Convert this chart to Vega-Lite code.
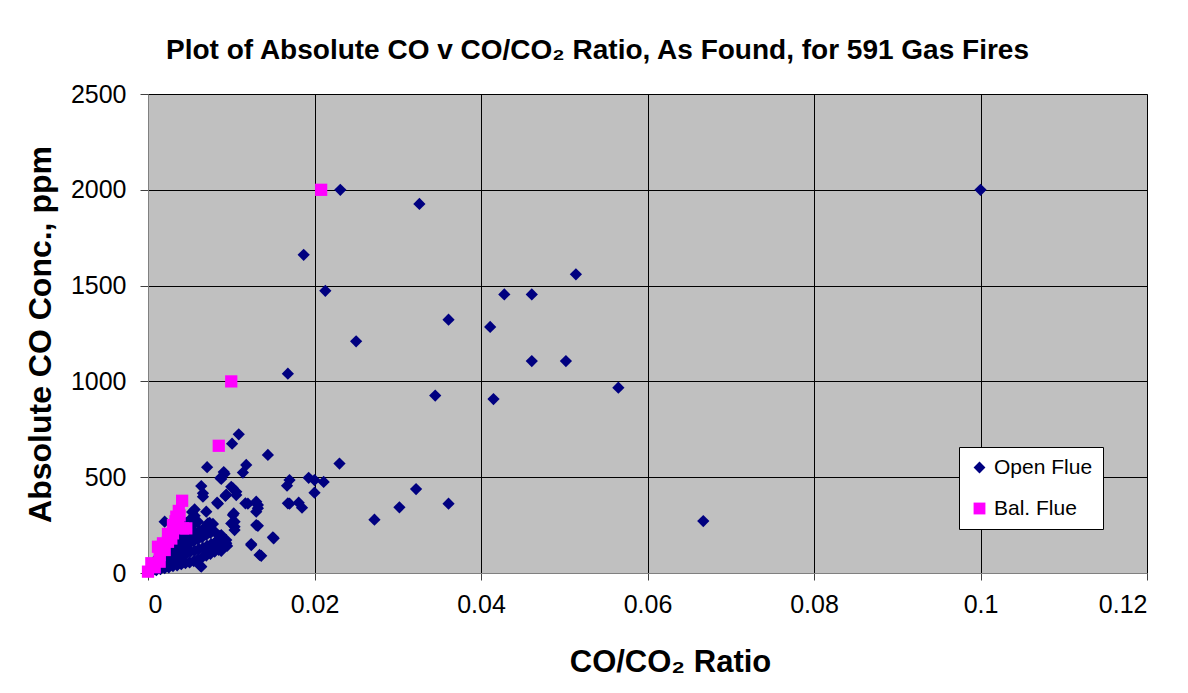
{
  "$schema": "https://vega.github.io/schema/vega-lite/v6.json",
  "width": 999,
  "height": 479,
  "autosize": {"type": "none"},
  "padding": {"left": 148, "top": 94, "right": 41, "bottom": 120},
  "background": "white",
  "title": {
    "text": "Plot of Absolute CO v CO/CO₂ Ratio, As Found, for 591 Gas Fires",
    "font": "Liberation Sans",
    "fontSize": 28,
    "fontWeight": "bold",
    "color": "black",
    "anchor": "middle",
    "frame": "group",
    "dx": -50,
    "offset": 17
  },
  "config": {
    "view": {"fill": "#C0C0C0", "stroke": "#808080", "strokeWidth": 1},
    "axis": {
      "labelFont": "Liberation Sans",
      "labelFontSize": 25,
      "labelColor": "black",
      "titleFont": "Liberation Sans",
      "titleFontWeight": "bold",
      "titleColor": "black",
      "gridColor": "black",
      "gridOpacity": 1,
      "gridWidth": 1,
      "domainColor": "#808080",
      "tickColor": "#404040",
      "tickSize": 8
    }
  },
  "data": {
    "values": [
      {"r": 0.1, "co": 2000, "type": "Open Flue"},
      {"r": 0.0231, "co": 2000, "type": "Open Flue"},
      {"r": 0.0326, "co": 1926, "type": "Open Flue"},
      {"r": 0.0187, "co": 1661, "type": "Open Flue"},
      {"r": 0.0514, "co": 1559, "type": "Open Flue"},
      {"r": 0.0213, "co": 1473, "type": "Open Flue"},
      {"r": 0.0428, "co": 1454, "type": "Open Flue"},
      {"r": 0.0461, "co": 1454, "type": "Open Flue"},
      {"r": 0.0361, "co": 1322, "type": "Open Flue"},
      {"r": 0.0411, "co": 1284, "type": "Open Flue"},
      {"r": 0.025, "co": 1209, "type": "Open Flue"},
      {"r": 0.0461, "co": 1106, "type": "Open Flue"},
      {"r": 0.0502, "co": 1106, "type": "Open Flue"},
      {"r": 0.0168, "co": 1040, "type": "Open Flue"},
      {"r": 0.0565, "co": 967, "type": "Open Flue"},
      {"r": 0.0345, "co": 926, "type": "Open Flue"},
      {"r": 0.0415, "co": 908, "type": "Open Flue"},
      {"r": 0.0109, "co": 724, "type": "Open Flue"},
      {"r": 0.0101, "co": 675, "type": "Open Flue"},
      {"r": 0.0144, "co": 616, "type": "Open Flue"},
      {"r": 0.023, "co": 571, "type": "Open Flue"},
      {"r": 0.0118, "co": 564, "type": "Open Flue"},
      {"r": 0.0071, "co": 552, "type": "Open Flue"},
      {"r": 0.0114, "co": 524, "type": "Open Flue"},
      {"r": 0.0091, "co": 527, "type": "Open Flue"},
      {"r": 0.0092, "co": 518, "type": "Open Flue"},
      {"r": 0.0088, "co": 491, "type": "Open Flue"},
      {"r": 0.0087, "co": 496, "type": "Open Flue"},
      {"r": 0.0193, "co": 497, "type": "Open Flue"},
      {"r": 0.017, "co": 485, "type": "Open Flue"},
      {"r": 0.02, "co": 485, "type": "Open Flue"},
      {"r": 0.0211, "co": 475, "type": "Open Flue"},
      {"r": 0.0167, "co": 456, "type": "Open Flue"},
      {"r": 0.0064, "co": 454, "type": "Open Flue"},
      {"r": 0.0102, "co": 442, "type": "Open Flue"},
      {"r": 0.01, "co": 450, "type": "Open Flue"},
      {"r": 0.0322, "co": 438, "type": "Open Flue"},
      {"r": 0.0106, "co": 424, "type": "Open Flue"},
      {"r": 0.02, "co": 419, "type": "Open Flue"},
      {"r": 0.0066, "co": 416, "type": "Open Flue"},
      {"r": 0.0106, "co": 407, "type": "Open Flue"},
      {"r": 0.0093, "co": 402, "type": "Open Flue"},
      {"r": 0.0094, "co": 409, "type": "Open Flue"},
      {"r": 0.0066, "co": 398, "type": "Open Flue"},
      {"r": 0.0083, "co": 367, "type": "Open Flue"},
      {"r": 0.0084, "co": 362, "type": "Open Flue"},
      {"r": 0.0117, "co": 364, "type": "Open Flue"},
      {"r": 0.012, "co": 362, "type": "Open Flue"},
      {"r": 0.013, "co": 372, "type": "Open Flue"},
      {"r": 0.0168, "co": 364, "type": "Open Flue"},
      {"r": 0.017, "co": 362, "type": "Open Flue"},
      {"r": 0.0181, "co": 367, "type": "Open Flue"},
      {"r": 0.0361, "co": 362, "type": "Open Flue"},
      {"r": 0.0132, "co": 355, "type": "Open Flue"},
      {"r": 0.0185, "co": 341, "type": "Open Flue"},
      {"r": 0.0302, "co": 343, "type": "Open Flue"},
      {"r": 0.0132, "co": 338, "type": "Open Flue"},
      {"r": 0.0056, "co": 332, "type": "Open Flue"},
      {"r": 0.007, "co": 320, "type": "Open Flue"},
      {"r": 0.013, "co": 320, "type": "Open Flue"},
      {"r": 0.0103, "co": 311, "type": "Open Flue"},
      {"r": 0.0102, "co": 303, "type": "Open Flue"},
      {"r": 0.0272, "co": 278, "type": "Open Flue"},
      {"r": 0.0667, "co": 271, "type": "Open Flue"},
      {"r": 0.002, "co": 268, "type": "Open Flue"},
      {"r": 0.0032, "co": 277, "type": "Open Flue"},
      {"r": 0.0104, "co": 268, "type": "Open Flue"},
      {"r": 0.0072, "co": 259, "type": "Open Flue"},
      {"r": 0.0074, "co": 262, "type": "Open Flue"},
      {"r": 0.0078, "co": 256, "type": "Open Flue"},
      {"r": 0.01, "co": 259, "type": "Open Flue"},
      {"r": 0.013, "co": 250, "type": "Open Flue"},
      {"r": 0.0132, "co": 246, "type": "Open Flue"},
      {"r": 0.0104, "co": 242, "type": "Open Flue"},
      {"r": 0.0104, "co": 224, "type": "Open Flue"},
      {"r": 0.0086, "co": 193, "type": "Open Flue"},
      {"r": 0.0088, "co": 198, "type": "Open Flue"},
      {"r": 0.015, "co": 186, "type": "Open Flue"},
      {"r": 0.0151, "co": 181, "type": "Open Flue"},
      {"r": 0.0094, "co": 172, "type": "Open Flue"},
      {"r": 0.008, "co": 155, "type": "Open Flue"},
      {"r": 0.0094, "co": 155, "type": "Open Flue"},
      {"r": 0.0124, "co": 151, "type": "Open Flue"},
      {"r": 0.0124, "co": 146, "type": "Open Flue"},
      {"r": 0.0082, "co": 129, "type": "Open Flue"},
      {"r": 0.0088, "co": 116, "type": "Open Flue"},
      {"r": 0.0136, "co": 90, "type": "Open Flue"},
      {"r": 0.0134, "co": 94, "type": "Open Flue"},
      {"r": 0.0063, "co": 37, "type": "Open Flue"},
      {"r": 0.0064, "co": 33, "type": "Open Flue"},
      {"r": 0.0005, "co": 10, "type": "Open Flue"},
      {"r": 0.0005, "co": 20, "type": "Open Flue"},
      {"r": 0.0006, "co": 32, "type": "Open Flue"},
      {"r": 0.001, "co": 15, "type": "Open Flue"},
      {"r": 0.001, "co": 30, "type": "Open Flue"},
      {"r": 0.0011, "co": 46, "type": "Open Flue"},
      {"r": 0.001, "co": 62, "type": "Open Flue"},
      {"r": 0.0012, "co": 80, "type": "Open Flue"},
      {"r": 0.0015, "co": 20, "type": "Open Flue"},
      {"r": 0.0015, "co": 41, "type": "Open Flue"},
      {"r": 0.0016, "co": 60, "type": "Open Flue"},
      {"r": 0.0015, "co": 82, "type": "Open Flue"},
      {"r": 0.0017, "co": 100, "type": "Open Flue"},
      {"r": 0.0016, "co": 122, "type": "Open Flue"},
      {"r": 0.002, "co": 25, "type": "Open Flue"},
      {"r": 0.0021, "co": 50, "type": "Open Flue"},
      {"r": 0.002, "co": 76, "type": "Open Flue"},
      {"r": 0.0022, "co": 98, "type": "Open Flue"},
      {"r": 0.002, "co": 127, "type": "Open Flue"},
      {"r": 0.0021, "co": 150, "type": "Open Flue"},
      {"r": 0.0025, "co": 30, "type": "Open Flue"},
      {"r": 0.0026, "co": 61, "type": "Open Flue"},
      {"r": 0.0025, "co": 88, "type": "Open Flue"},
      {"r": 0.0027, "co": 120, "type": "Open Flue"},
      {"r": 0.0025, "co": 152, "type": "Open Flue"},
      {"r": 0.0026, "co": 181, "type": "Open Flue"},
      {"r": 0.003, "co": 36, "type": "Open Flue"},
      {"r": 0.0031, "co": 70, "type": "Open Flue"},
      {"r": 0.003, "co": 101, "type": "Open Flue"},
      {"r": 0.0032, "co": 131, "type": "Open Flue"},
      {"r": 0.003, "co": 160, "type": "Open Flue"},
      {"r": 0.0031, "co": 192, "type": "Open Flue"},
      {"r": 0.0033, "co": 222, "type": "Open Flue"},
      {"r": 0.0035, "co": 40, "type": "Open Flue"},
      {"r": 0.0036, "co": 79, "type": "Open Flue"},
      {"r": 0.0035, "co": 116, "type": "Open Flue"},
      {"r": 0.0037, "co": 150, "type": "Open Flue"},
      {"r": 0.0035, "co": 184, "type": "Open Flue"},
      {"r": 0.0036, "co": 214, "type": "Open Flue"},
      {"r": 0.004, "co": 46, "type": "Open Flue"},
      {"r": 0.0041, "co": 90, "type": "Open Flue"},
      {"r": 0.004, "co": 129, "type": "Open Flue"},
      {"r": 0.0042, "co": 171, "type": "Open Flue"},
      {"r": 0.004, "co": 210, "type": "Open Flue"},
      {"r": 0.0041, "co": 246, "type": "Open Flue"},
      {"r": 0.0045, "co": 52, "type": "Open Flue"},
      {"r": 0.0046, "co": 99, "type": "Open Flue"},
      {"r": 0.0045, "co": 141, "type": "Open Flue"},
      {"r": 0.0047, "co": 181, "type": "Open Flue"},
      {"r": 0.0045, "co": 219, "type": "Open Flue"},
      {"r": 0.0046, "co": 262, "type": "Open Flue"},
      {"r": 0.005, "co": 55, "type": "Open Flue"},
      {"r": 0.0051, "co": 111, "type": "Open Flue"},
      {"r": 0.005, "co": 154, "type": "Open Flue"},
      {"r": 0.0052, "co": 199, "type": "Open Flue"},
      {"r": 0.005, "co": 241, "type": "Open Flue"},
      {"r": 0.0051, "co": 281, "type": "Open Flue"},
      {"r": 0.0053, "co": 318, "type": "Open Flue"},
      {"r": 0.0055, "co": 62, "type": "Open Flue"},
      {"r": 0.0056, "co": 116, "type": "Open Flue"},
      {"r": 0.0055, "co": 166, "type": "Open Flue"},
      {"r": 0.0057, "co": 209, "type": "Open Flue"},
      {"r": 0.0055, "co": 254, "type": "Open Flue"},
      {"r": 0.0056, "co": 299, "type": "Open Flue"},
      {"r": 0.006, "co": 71, "type": "Open Flue"},
      {"r": 0.0061, "co": 124, "type": "Open Flue"},
      {"r": 0.006, "co": 176, "type": "Open Flue"},
      {"r": 0.0062, "co": 221, "type": "Open Flue"},
      {"r": 0.006, "co": 268, "type": "Open Flue"},
      {"r": 0.0065, "co": 81, "type": "Open Flue"},
      {"r": 0.0066, "co": 131, "type": "Open Flue"},
      {"r": 0.0065, "co": 186, "type": "Open Flue"},
      {"r": 0.0067, "co": 233, "type": "Open Flue"},
      {"r": 0.007, "co": 91, "type": "Open Flue"},
      {"r": 0.0071, "co": 141, "type": "Open Flue"},
      {"r": 0.007, "co": 199, "type": "Open Flue"},
      {"r": 0.0072, "co": 248, "type": "Open Flue"},
      {"r": 0.0075, "co": 100, "type": "Open Flue"},
      {"r": 0.0076, "co": 151, "type": "Open Flue"},
      {"r": 0.0075, "co": 209, "type": "Open Flue"},
      {"r": 0.008, "co": 111, "type": "Open Flue"},
      {"r": 0.0081, "co": 161, "type": "Open Flue"},
      {"r": 0.008, "co": 216, "type": "Open Flue"},
      {"r": 0.0085, "co": 121, "type": "Open Flue"},
      {"r": 0.0086, "co": 171, "type": "Open Flue"},
      {"r": 0.009, "co": 131, "type": "Open Flue"},
      {"r": 0.0091, "co": 179, "type": "Open Flue"},
      {"r": 0.0095, "co": 141, "type": "Open Flue"},
      {"r": 0.0208, "co": 2000, "type": "Bal. Flue"},
      {"r": 0.01, "co": 1000, "type": "Bal. Flue"},
      {"r": 0.0085, "co": 664, "type": "Bal. Flue"},
      {"r": 0.0041, "co": 377, "type": "Bal. Flue"},
      {"r": 0.0037, "co": 324, "type": "Bal. Flue"},
      {"r": 0.0038, "co": 300, "type": "Bal. Flue"},
      {"r": 0.0034, "co": 294, "type": "Bal. Flue"},
      {"r": 0.0033, "co": 270, "type": "Bal. Flue"},
      {"r": 0.0036, "co": 259, "type": "Bal. Flue"},
      {"r": 0.003, "co": 250, "type": "Bal. Flue"},
      {"r": 0.0046, "co": 233, "type": "Bal. Flue"},
      {"r": 0.0042, "co": 233, "type": "Bal. Flue"},
      {"r": 0.003, "co": 207, "type": "Bal. Flue"},
      {"r": 0.0024, "co": 204, "type": "Bal. Flue"},
      {"r": 0.0028, "co": 180, "type": "Bal. Flue"},
      {"r": 0.0024, "co": 163, "type": "Bal. Flue"},
      {"r": 0.0018, "co": 155, "type": "Bal. Flue"},
      {"r": 0.0012, "co": 137, "type": "Bal. Flue"},
      {"r": 0.002, "co": 120, "type": "Bal. Flue"},
      {"r": 0.0014, "co": 94, "type": "Bal. Flue"},
      {"r": 0.0014, "co": 59, "type": "Bal. Flue"},
      {"r": 0.0004, "co": 51, "type": "Bal. Flue"},
      {"r": 0.0008, "co": 30, "type": "Bal. Flue"},
      {"r": 0.0, "co": 7, "type": "Bal. Flue"}
    ]
  },
  "mark": {"type": "point", "filled": true, "opacity": 1, "strokeWidth": 0},
  "encoding": {
    "x": {
      "field": "r",
      "type": "quantitative",
      "scale": {"domain": [0, 0.12], "nice": false, "zero": true},
      "axis": {
        "values": [0, 0.02, 0.04, 0.06, 0.08, 0.1, 0.12],
        "labelExpr": "datum.value + ''",
        "title": "CO/CO₂ Ratio",
        "titleFontSize": 31,
        "labelPadding": 12,
        "titleX": 522,
        "titleY": 89,
        "titleBaseline": "middle",
        "titleAlign": "center",
        "tickSize": 7
      }
    },
    "y": {
      "field": "co",
      "type": "quantitative",
      "scale": {"domain": [0, 2500], "nice": false},
      "axis": {
        "values": [0, 500, 1000, 1500, 2000, 2500],
        "format": "d",
        "title": "Absolute CO Conc., ppm",
        "titleFontSize": 32,
        "labelPadding": 14,
        "titleX": -108,
        "titleY": 240,
        "titleBaseline": "middle",
        "titleAlign": "center",
        "titleAngle": -90
      }
    },
    "color": {
      "field": "type",
      "type": "nominal",
      "scale": {"domain": ["Open Flue", "Bal. Flue"], "range": ["#000080", "#FF00FF"]},
      "legend": {
        "title": null,
        "orient": "none",
        "legendX": 811,
        "legendY": 353,
        "fillColor": "white",
        "strokeColor": "black",
        "padding": 10,
        "labelFont": "Liberation Sans",
        "labelFontSize": 21,
        "labelColor": "black",
        "symbolSize": 140,
        "rowPadding": 19,
        "labelOffset": 4
      }
    },
    "shape": {
      "field": "type",
      "type": "nominal",
      "scale": {"domain": ["Open Flue", "Bal. Flue"], "range": ["diamond", "square"]},
      "legend": null
    },
    "size": {"value": 150}
  }
}
